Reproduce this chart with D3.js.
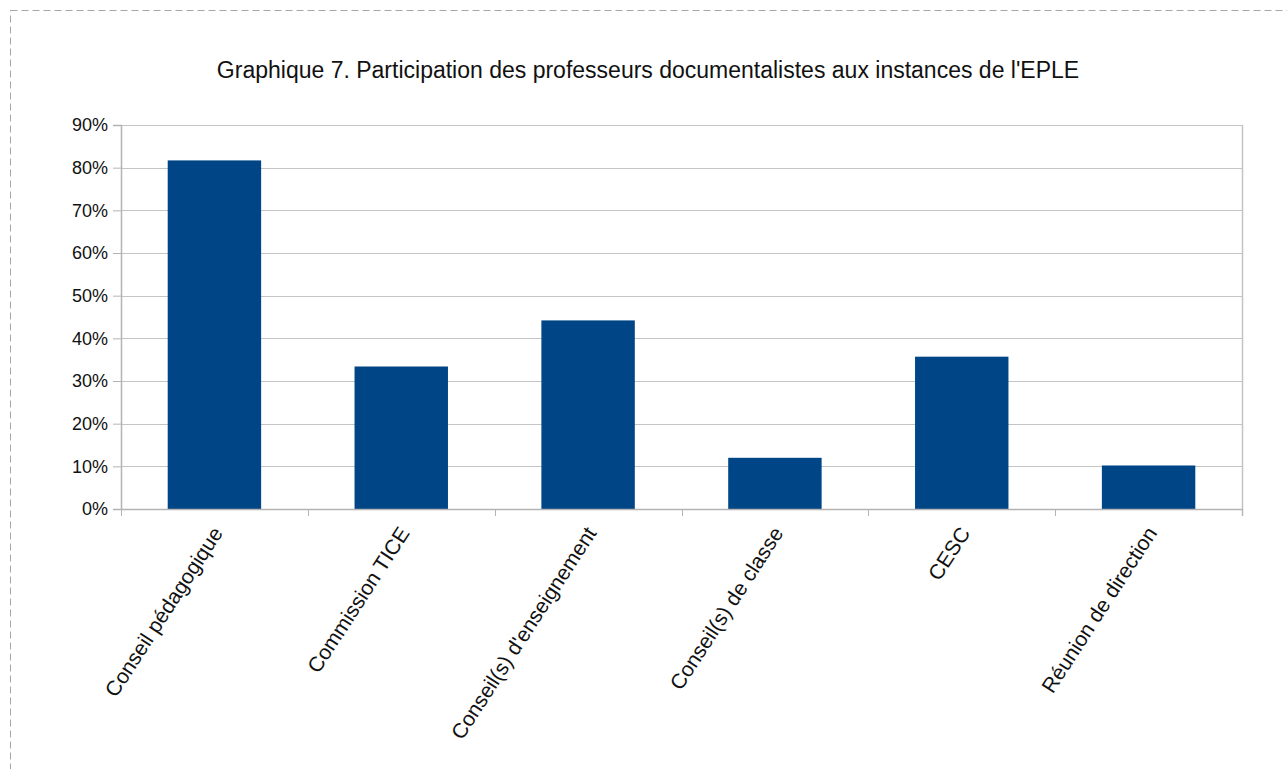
<!DOCTYPE html>
<html lang="fr">
<head>
<meta charset="utf-8">
<script src="https://cdn.jsdelivr.net/npm/d3@7"></script>
<style>
  html, body { margin: 0; padding: 0; background: #fff; }
  svg { display: block; font-family: "Liberation Sans", Arial, sans-serif; }
</style>
</head>
<body>
<svg id="chart" width="1287" height="769"></svg>
<script>
// Instances de l'EPLE et part des professeurs documentalistes qui y participent
const categories = [
  "Conseil pédagogique",
  "Commission TICE",
  "Conseil(s) d'enseignement",
  "Conseil(s) de classe",
  "CESC",
  "Réunion de direction"
];
const participation = [0.817, 0.334, 0.442, 0.120, 0.357, 0.102];
const yTicks = [0, 0.1, 0.2, 0.3, 0.4, 0.5, 0.6, 0.7, 0.8, 0.9];
const title = "Graphique 7. Participation des professeurs documentalistes aux instances de l'EPLE";

const W = 1287, H = 769;
const margin = { left: 121, right: 45, top: 125, bottom: 260 };
const plotW = W - margin.left - margin.right;
const plotH = H - margin.top - margin.bottom;

const svg = d3.select("#chart");

// cadre en pointillés autour du graphique
svg.append("rect")
  .attr("x", 10.5).attr("y", 10.5)
  .attr("width", W + 20).attr("height", H + 20)
  .attr("fill", "none")
  .attr("stroke", "#a6a6a6")
  .attr("stroke-width", 1)
  .attr("stroke-dasharray", "7,4");

svg.append("text")
  .attr("x", 648).attr("y", 78)
  .attr("text-anchor", "middle")
  .attr("font-size", 23)
  .attr("fill", "#111")
  .text(title);

const g = svg.append("g").attr("transform", `translate(${margin.left},${margin.top})`);

const x = d3.scaleBand().domain(categories).range([0, plotW]).paddingInner(0.5).paddingOuter(0.25);
const y = d3.scaleLinear().domain([0, 0.9]).range([plotH, 0]);

// lignes de quadrillage horizontales
g.append("g")
  .selectAll("line")
  .data(yTicks)
  .join("line")
  .attr("x1", 0).attr("x2", plotW)
  .attr("y1", d => Math.round(y(d)) + 0.5).attr("y2", d => Math.round(y(d)) + 0.5)
  .attr("stroke", "#c4c4c4")
  .attr("stroke-width", 1);

// barres
g.append("g")
  .selectAll("rect")
  .data(participation)
  .join("rect")
  .attr("x", (d, i) => x(categories[i]))
  .attr("y", d => y(d))
  .attr("width", x.bandwidth())
  .attr("height", d => plotH - y(d))
  .attr("fill", "#004586");

// axe vertical
const yAxis = d3.axisLeft(y)
  .tickValues(yTicks)
  .tickFormat(d3.format(".0%"))
  .tickSize(8)
  .tickPadding(5);
const ya = g.append("g").call(yAxis);
ya.attr("font-family", null);
ya.select(".domain").attr("stroke", "#b3b3b3").attr("stroke-width", 1.5);
ya.selectAll(".tick line").attr("stroke", "#b3b3b3");
ya.selectAll(".tick text").attr("font-size", 18).attr("fill", "#111");

// bord droit du cadre de tracé
g.append("line")
  .attr("x1", plotW + 0.5).attr("x2", plotW + 0.5)
  .attr("y1", 0).attr("y2", plotH + 7)
  .attr("stroke", "#c4c4c4").attr("stroke-width", 1.5);

// axe horizontal : graduations aux limites des catégories
const bounds = d3.range(categories.length + 1).map(i => i * plotW / categories.length);
const xa = g.append("g").attr("transform", `translate(0,${plotH})`);
xa.append("line")
  .attr("x1", 0).attr("x2", plotW)
  .attr("y1", 0.5).attr("y2", 0.5)
  .attr("stroke", "#b3b3b3").attr("stroke-width", 1.5);
xa.selectAll("line.tick")
  .data(bounds)
  .join("line")
  .attr("class", "tick")
  .attr("x1", d => Math.round(d) + 0.5).attr("x2", d => Math.round(d) + 0.5)
  .attr("y1", 0).attr("y2", 7)
  .attr("stroke", "#b3b3b3");

xa.selectAll("text")
  .data(categories)
  .join("text")
  .attr("transform", d => `translate(${x(d) + x.bandwidth() / 2 + 3},${20}) rotate(-57)`)
  .attr("text-anchor", "end")
  .attr("dy", "0.35em")
  .attr("font-size", 21)
  .attr("fill", "#111")
  .text(d => d);
</script>
</body>
</html>
